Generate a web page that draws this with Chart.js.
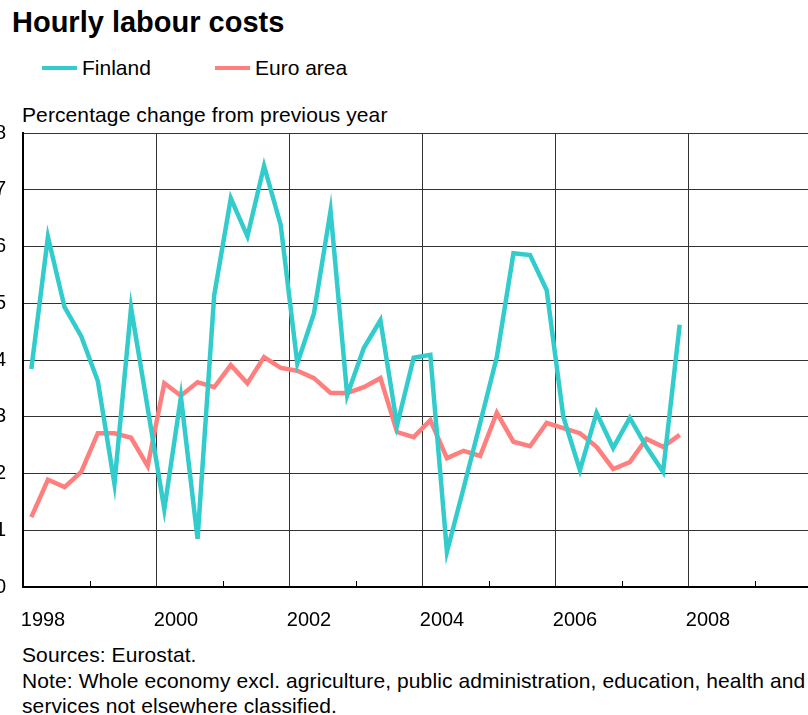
<!DOCTYPE html>
<html>
<head>
<meta charset="utf-8">
<script src="https://cdn.jsdelivr.net/npm/chart.js@4"></script>
<style>
  html, body { margin: 0; padding: 0; background: #fff; }
  body {
    position: relative; width: 808px; height: 715px; overflow: hidden;
    font-family: "Liberation Sans", Arial, sans-serif; color: #000;
  }
  .txt { position: absolute; white-space: nowrap; line-height: 1; }
  #title { left: 12px; top: 8px; font-size: 29px; font-weight: bold; }
  .legend-line { position: absolute; height: 4px; top: 66px; width: 35px; }
  .legend-text { top: 57px; font-size: 21px; }
  #subtitle { left: 22px; top: 104px; font-size: 21px; letter-spacing: 0.1px; }
  #notes { position: absolute; left: 22px; top: 642px; font-size: 21px; line-height: 25.5px; white-space: nowrap; letter-spacing: 0.1px; }
  #chart { position: absolute; left: -40px; top: 100px; }
</style>
</head>
<body>
<div id="title" class="txt">Hourly labour costs</div>
<div class="legend-line" style="left:42px;background:#33cccc"></div>
<div class="txt legend-text" style="left:82px">Finland</div>
<div class="legend-line" style="left:215px;background:#ff7f7f"></div>
<div class="txt legend-text" style="left:255px">Euro area</div>
<div id="subtitle" class="txt">Percentage change from previous year</div>
<canvas id="chart" width="900" height="537"></canvas>
<div id="notes">Sources: Eurostat.<br>Note: Whole economy excl. agriculture, public administration, education, health and<br>services not elsewhere classified.</div>
<script>
  // quarterly observations, 1998Q1 .. 2007Q4
  const quarters = [
    "1998Q1", "1998Q2", "1998Q3", "1998Q4",
    "1999Q1", "1999Q2", "1999Q3", "1999Q4",
    "2000Q1", "2000Q2", "2000Q3", "2000Q4",
    "2001Q1", "2001Q2", "2001Q3", "2001Q4",
    "2002Q1", "2002Q2", "2002Q3", "2002Q4",
    "2003Q1", "2003Q2", "2003Q3", "2003Q4",
    "2004Q1", "2004Q2", "2004Q3", "2004Q4",
    "2005Q1", "2005Q2", "2005Q3", "2005Q4",
    "2006Q1", "2006Q2", "2006Q3", "2006Q4",
    "2007Q1", "2007Q2", "2007Q3", "2007Q4"
  ];
  const finland = [
    3.84, 6.17, 4.93, 4.42, 3.63, 1.82, 4.92, 3.15,
    1.37, 3.35, 0.85, 5.14, 6.85, 6.18, 7.42, 6.38,
    3.94, 4.82, 6.63, 3.38, 4.21, 4.70, 2.85, 4.04,
    4.09, 0.62, 1.74, 2.89, 4.05, 5.88, 5.85, 5.23,
    3.00, 2.06, 3.07, 2.45, 2.98, 2.47, 2.03, 4.62
  ];
  const euroArea = [
    1.23, 1.89, 1.76, 2.03, 2.71, 2.71, 2.63, 2.13,
    3.59, 3.37, 3.61, 3.52, 3.91, 3.59, 4.05, 3.86,
    3.81, 3.68, 3.42, 3.42, 3.52, 3.68, 2.73, 2.64,
    2.94, 2.27, 2.40, 2.31, 3.07, 2.56, 2.48, 2.89,
    2.80, 2.71, 2.47, 2.08, 2.20, 2.61, 2.47, 2.68
  ];
  const yearLabels = [1998, 2000, 2002, 2004, 2006, 2008];
  const yTicks = [0, 1, 2, 3, 4, 5, 6, 7, 8];

  // quarter label -> position in years, plotted mid-quarter
  function quarterPos(q) {
    const y = Number(q.slice(0, 4));
    const n = Number(q.slice(5));
    return y + (n - 0.5) / 4;
  }
  function toPoints(values) {
    return values.map(function (v, i) { return { x: quarterPos(quarters[i]), y: v }; });
  }

  // small inner ticks on the odd years
  const oddYearTicks = {
    id: "oddYearTicks",
    afterDraw: function (chart) {
      const xs = chart.scales.x;
      const ctx = chart.ctx;
      const bottom = chart.chartArea.bottom;
      ctx.save();
      ctx.strokeStyle = "#000";
      ctx.lineWidth = 1;
      for (let yr = 1999; yr < 2010; yr += 2) {
        const px = Math.round(xs.getPixelForValue(yr)) + 0.5;
        ctx.beginPath();
        ctx.moveTo(px, bottom);
        ctx.lineTo(px, bottom - 6);
        ctx.stroke();
      }
      ctx.restore();
    }
  };

  new Chart(document.getElementById("chart"), {
    type: "line",
    data: {
      datasets: [
        {
          label: "Finland",
          data: toPoints(finland),
          borderColor: "#33cccc",
          borderWidth: 4.5,
          pointRadius: 0,
          tension: 0
        },
        {
          label: "Euro area",
          data: toPoints(euroArea),
          borderColor: "#ff7f7f",
          borderWidth: 4.5,
          pointRadius: 0,
          tension: 0
        }
      ]
    },
    options: {
      responsive: false,
      devicePixelRatio: 1,
      animation: false,
      layout: { padding: { top: 33, right: 39, left: 0, bottom: 0 } },
      plugins: { legend: { display: false }, tooltip: { enabled: false } },
      scales: {
        x: {
          type: "linear",
          min: 1998,
          max: 2010,
          afterFit: function (s) { s.height = 50; },
          afterBuildTicks: function (s) {
            s.ticks = [];
            for (let yr = 1998; yr <= 2010; yr += 2) s.ticks.push({ value: yr });
          },
          ticks: {
            autoSkip: false,
            maxRotation: 0,
            padding: 21,
            labelOffset: 20,
            color: "#000",
            font: { family: "'Liberation Sans', Arial", size: 20 },
            callback: function (v) { return yearLabels.includes(v) ? String(v) : ""; }
          },
          grid: {
            drawTicks: false,
            lineWidth: 1,
            color: function (c) {
              return c.tick && c.tick.value > 1998 ? "#333" : "rgba(0,0,0,0)";
            }
          },
          border: { display: true, color: "#000", width: 2 }
        },
        y: {
          min: 0,
          max: 8,
          afterFit: function (s) { s.width = 63; },
          afterBuildTicks: function (s) {
            s.ticks = yTicks.map(function (v) { return { value: v }; });
          },
          ticks: {
            padding: 17,
            color: "#000",
            font: { family: "'Liberation Sans', Arial", size: 20 }
          },
          grid: { drawTicks: false, color: "#333", lineWidth: 1 },
          border: { display: true, color: "#000", width: 2 }
        }
      }
    },
    plugins: [oddYearTicks]
  });
</script>
</body>
</html>
